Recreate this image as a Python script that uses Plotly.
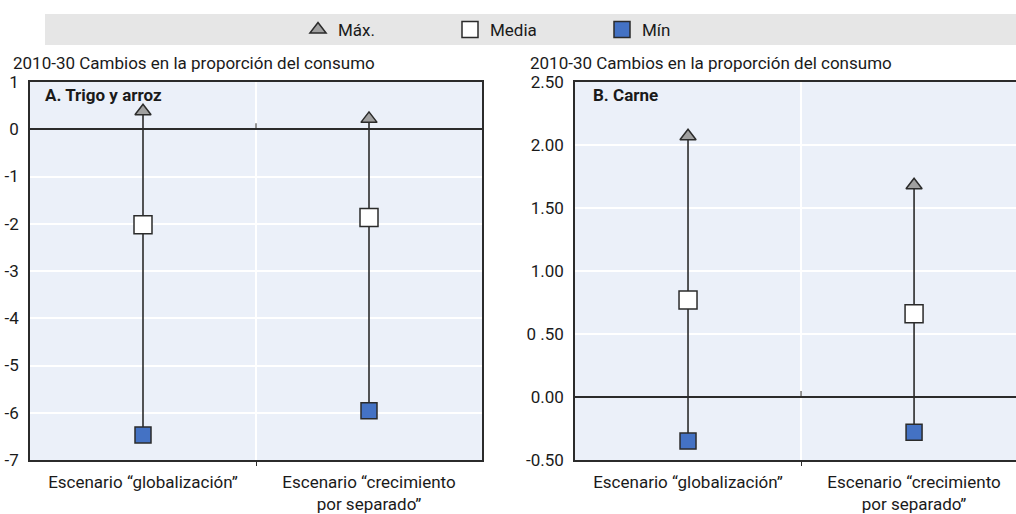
import plotly.graph_objects as go

# ---------------- data ----------------
categories = [0, 1]
cat_labels = ["Escenario “globalización”", "Escenario “crecimiento<br>por separado”"]

a_max = [0.38, 0.22]
a_mean = [-2.02, -1.87]
a_min = [-6.47, -5.96]

b_max = [2.07, 1.68]
b_mean = [0.77, 0.66]
b_min = [-0.35, -0.28]

a_ticks = [1, 0, -1, -2, -3, -4, -5, -6, -7]
a_ticktext = ["1", "0", "-1", "-2", "-3", "-4", "-5", "-6", "-7"]
b_ticks = [2.5, 2.0, 1.5, 1.0, 0.5, 0.0, -0.5]
b_ticktext = ["2.50", "2.00", "1.50", "1.00", "0\u00a0.50", "0.00", "-0.50"]

series_names = ["Máx.", "Media", "Mín"]
y_title = "2010-30 Cambios en la proporción del consumo"
panel_titles = ["A. Trigo y arroz", "B. Carne"]

# ---------------- style ----------------
W, H = 1016, 514
FONT = "Roboto, Liberation Sans Narrow, sans-serif"
FS = 17
PLOT_BG = "#ebf0f9"
LINE = "#2b2b2b"
TXT = "#1a1a1a"
TRI_FILL = "#a0a0a0"
MIN_FILL = "#4472c4"


def px_x(p):
    return p / W


def px_y(p):
    return (H - p) / H


fig = go.Figure()

panels = [
    ("x", "y", a_max, a_mean, a_min, True),
    ("x2", "y2", b_max, b_mean, b_min, False),
]

for xa, ya, mx, me, mn, show in panels:
    for c, lo, hi in zip(categories, mn, mx):
        fig.add_trace(go.Scatter(x=[c, c], y=[lo, hi], mode="lines",
                                 line=dict(color=LINE, width=1.6),
                                 showlegend=False, hoverinfo="skip",
                                 xaxis=xa, yaxis=ya))
    fig.add_trace(go.Scatter(x=categories, y=mx, mode="markers", name=series_names[0],
                             marker=dict(symbol="triangle-up", size=14, color=TRI_FILL,
                                         line=dict(color=LINE, width=1.5)),
                             legendgroup="max", showlegend=show, xaxis=xa, yaxis=ya))
    fig.add_trace(go.Scatter(x=categories, y=me, mode="markers", name=series_names[1],
                             marker=dict(symbol="square", size=18, color="white",
                                         line=dict(color=LINE, width=1.5)),
                             legendgroup="mean", showlegend=show, xaxis=xa, yaxis=ya))
    fig.add_trace(go.Scatter(x=categories, y=mn, mode="markers", name=series_names[2],
                             marker=dict(symbol="square", size=16, color=MIN_FILL,
                                         line=dict(color=LINE, width=1.5)),
                             legendgroup="min", showlegend=show, xaxis=xa, yaxis=ya))

xcommon = dict(tickvals=categories, ticktext=cat_labels, showgrid=False, zeroline=False,
               showline=True, linecolor=LINE, linewidth=1.5, ticks="", automargin=False,
               ticklabelstandoff=6,
               tickfont=dict(family=FONT, size=FS, color=TXT),
               minor=dict(tickvals=[0.5], showgrid=True, gridcolor="white", gridwidth=1.5,
                          ticks="outside", ticklen=4, tickcolor=LINE, tickwidth=1))
ycommon = dict(showgrid=True, gridcolor="white", gridwidth=2, zeroline=True,
               zerolinecolor=LINE, zerolinewidth=1.5, showline=True, linecolor=LINE,
               linewidth=1.5, ticks="", automargin=False, ticklabelstandoff=6,
               tickfont=dict(family=FONT, size=FS, color=TXT))

dom_y = [px_y(460), px_y(82)]

fig.update_layout(
    width=W, height=H,
    margin=dict(l=0, r=0, t=0, b=0, autoexpand=False),
    paper_bgcolor="white",
    plot_bgcolor=PLOT_BG,
    font=dict(family=FONT, size=FS, color=TXT),
    xaxis=dict(domain=[px_x(30), px_x(482)], range=[-0.5, 1.5], mirror=True, anchor="y", **xcommon),
    yaxis=dict(domain=dom_y, range=[-7, 1], tickvals=a_ticks, ticktext=a_ticktext,
               mirror=True, anchor="x", **ycommon),
    xaxis2=dict(domain=[px_x(575), 1.0], range=[-0.5, 1.451], mirror=True, anchor="y2", **xcommon),
    yaxis2=dict(domain=dom_y, range=[-0.5, 2.5], tickvals=b_ticks, ticktext=b_ticktext,
                mirror=False, anchor="x2", **ycommon),
    legend=dict(orientation="h", x=px_x(298), xanchor="left", y=px_y(30), yanchor="middle",
                bgcolor="rgba(0,0,0,0)", entrywidth=107, entrywidthmode="pixels",
                font=dict(family=FONT, size=FS, color=TXT), itemclick=False),
    showlegend=True,
)

# legend band
fig.add_shape(type="rect", xref="paper", yref="paper", x0=px_x(45), x1=1.0,
              y0=px_y(45), y1=px_y(14), fillcolor="#e6e6e6", line=dict(width=0), layer="below")

# small tick on the zero lines between categories
for xa, ya in [("x", "y"), ("x2", "y2")]:
    fig.add_shape(type="line", xref=xa, yref=ya, x0=0.5, x1=0.5, ysizemode="pixel",
                  yanchor=0, y0=0, y1=6, line=dict(color=LINE, width=1))

# axis titles (above panels)
for xpos in (11, 528):
    fig.add_annotation(xref="paper", yref="paper", x=px_x(xpos), y=px_y(63), xanchor="left",
                       yanchor="middle", text=y_title, showarrow=False,
                       font=dict(family=FONT, size=FS, color=TXT))
# panel titles
for xpos, t in ((43, panel_titles[0]), (591, panel_titles[1])):
    fig.add_annotation(xref="paper", yref="paper", x=px_x(xpos), y=px_y(95), xanchor="left",
                       yanchor="middle", text="<b>" + t + "</b>", showarrow=False,
                       font=dict(family=FONT, size=FS, color=TXT))

fig.write_html("out.html", config={"displayModeBar": False},
               post_script="document.body.style.margin='0px';document.body.style.overflow='hidden';")
